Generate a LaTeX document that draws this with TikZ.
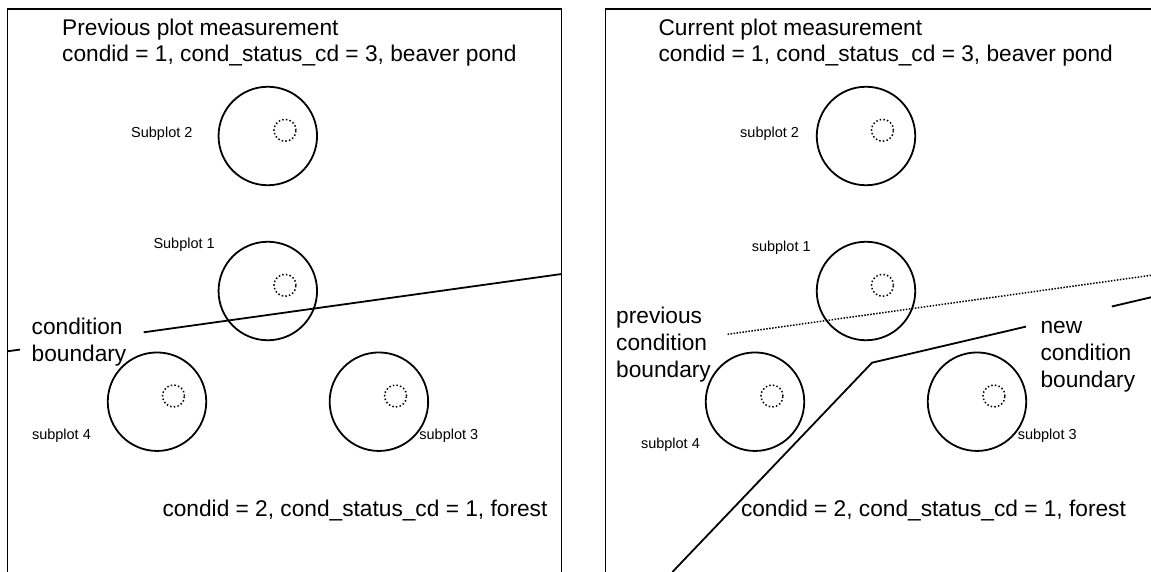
\documentclass[tikz,border=0pt]{standalone}
\usepackage{fontspec}
\setmainfont{Liberation Sans}
\begin{document}
\begin{tikzpicture}[x=1pt,y=-1pt,
  frame/.style={line width=1.5pt},
  plotc/.style={circle,draw,line width=1.8pt,minimum size=98.5pt,inner sep=0pt},
  micro/.style={circle,draw,line width=1.5pt,dash pattern=on 1.5pt off 2.2pt,minimum size=22pt,inner sep=0pt},
  bigtxt/.style={font=\fontsize{22.7}{25.7}\selectfont,inner sep=0pt,anchor=base west},
  lbltxt/.style={font=\fontsize{22.7}{27}\selectfont,inner sep=0pt,anchor=base west},
  smalltxt/.style={font=\fontsize{14.5}{17}\selectfont,inner sep=0pt,anchor=base west},
  bound/.style={line width=1.8pt},
  oldbound/.style={line width=1.5pt,dash pattern=on 1.5pt off 1.5pt}
]
\useasboundingbox (0,0) rectangle (1151,572);

% ---------------- left panel: previous measurement
\coordinate (LbotL) at (7.3,572);
\coordinate (LtopL) at (7.3,9);
\coordinate (LtopR) at (561.7,9);
\coordinate (LbotR) at (561.7,572);
\draw[frame] (LbotL) -- (LtopL) -- (LtopR) -- (LbotR);

\node[bigtxt] (titleL) at (62,36) {\vtop{\hbox{Previous plot measurement}\hbox{condid = 1, cond\_status\_cd = 3, beaver pond}}};

\node[plotc] (s2L) at (267.8,136) {};
\node[micro] (m2L) at (285,130.3) {};
\node[plotc] (s1L) at (267.8,291) {};
\node[micro] (m1L) at (285,285.3) {};
\node[plotc] (s4L) at (157,401.7) {};
\node[micro] (m4L) at (173.5,396) {};
\node[plotc] (s3L) at (378.9,401.7) {};
\node[micro] (m3L) at (395.6,396) {};

\node[smalltxt] (t2L) at (131,138) {Subplot 2};
\node[smalltxt] (t1L) at (153.3,248) {Subplot 1};
\node[smalltxt] (t4L) at (31.8,439.5) {subplot 4};
\node[smalltxt] (t3L) at (419.2,439.5) {subplot 3};

\node[lbltxt] (cbL) at (31.5,334.3) {\vtop{\hbox{condition}\hbox{boundary}}};
\coordinate (bL0) at (7.3,351.3);
\coordinate (bL1) at (20,349.6);
\coordinate (bL2) at (143.7,332.3);
\coordinate (bL3) at (561.7,274);
\draw[bound] (bL0) -- (bL1);
\draw[bound] (bL2) -- (bL3);

\node[bigtxt] (forL) at (162.3,516.7) {condid = 2, cond\_status\_cd = 1, forest};

% ---------------- right panel: current measurement
\coordinate (RtopR) at (1151,9);
\coordinate (RtopL) at (605.7,9);
\coordinate (RbotL) at (605.7,572);
\draw[frame] (RtopR) -- (RtopL) -- (RbotL);

\node[bigtxt] (titleR) at (658.3,36) {\vtop{\hbox{Current plot measurement}\hbox{condid = 1, cond\_status\_cd = 3, beaver pond}}};

\node[plotc] (s2R) at (866,136) {};
\node[micro] (m2R) at (882.5,130.3) {};
\node[plotc] (s1R) at (866,291) {};
\node[micro] (m1R) at (882.5,285.3) {};
\node[plotc] (s4R) at (755,401.7) {};
\node[micro] (m4R) at (772,396) {};
\node[plotc] (s3R) at (977,401.7) {};
\node[micro] (m3R) at (994,396) {};

\node[smalltxt] (t2R) at (740,138) {subplot 2};
\node[smalltxt] (t1R) at (751.6,251.5) {subplot 1};
\node[smalltxt] (t4R) at (640.8,448.5) {subplot 4};
\node[smalltxt] (t3R) at (1017.6,439.5) {subplot 3};

\node[lbltxt] (pcb) at (616,323) {\vtop{\hbox{previous}\hbox{condition}\hbox{boundary}}};
\node[lbltxt] (ncb) at (1040.3,333.6) {\vtop{\hbox{new}\hbox{condition}\hbox{boundary}}};

\coordinate (o0) at (727.6,334.3);
\coordinate (o1) at (1151,275.3);
\draw[oldbound] (o0) -- (o1);

\coordinate (n0) at (672.4,572);
\coordinate (n1) at (872,362.7);
\coordinate (n2) at (1026,326.6);
\coordinate (n3) at (1111.8,306.5);
\coordinate (n4) at (1151,297.3);
\draw[bound] (n0) -- (n1) -- (n2);
\draw[bound] (n3) -- (n4);

\node[bigtxt] (forR) at (740.8,516.7) {condid = 2, cond\_status\_cd = 1, forest};
\end{tikzpicture}
\end{document}
